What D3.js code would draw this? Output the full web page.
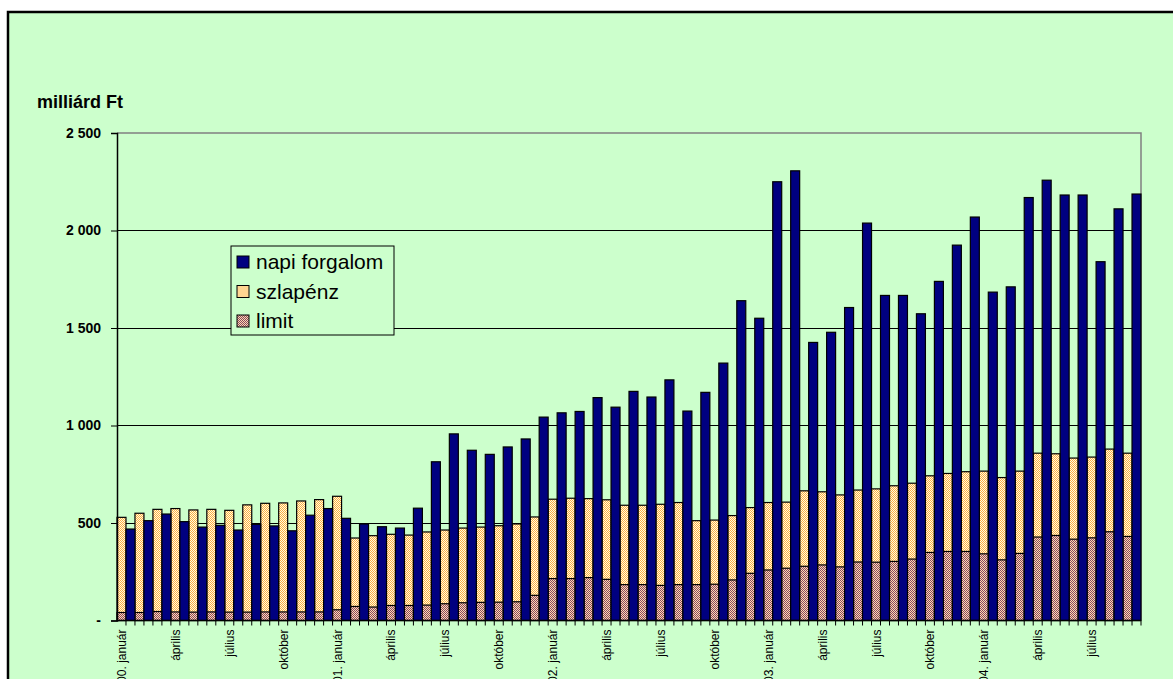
<!DOCTYPE html>
<html>
<head>
<meta charset="utf-8">
<script src="https://cdn.jsdelivr.net/npm/d3@7"></script>
<style>
  html, body { margin: 0; padding: 0; background: #ffffff; }
  svg { display: block; font-family: "Liberation Sans", Arial, sans-serif; }
</style>
</head>
<body>
<svg id="chart"></svg>
<script>
// havi adatok, 2000. január - 2004. szeptember (milliárd Ft)
const months = [
  "2000. január", "február", "március", "április", "május", "június", "július", "augusztus", "szeptember", "október", "november", "december",
  "2001. január", "február", "március", "április", "május", "június", "július", "augusztus", "szeptember", "október", "november", "december",
  "2002. január", "február", "március", "április", "május", "június", "július", "augusztus", "szeptember", "október", "november", "december",
  "2003. január", "február", "március", "április", "május", "június", "július", "augusztus", "szeptember", "október", "november", "december",
  "2004. január", "február", "március", "április", "május", "június", "július", "augusztus", "szeptember"
];

const napiForgalom = [
  469, 512, 546, 507, 479, 488, 464, 493, 485, 460, 540, 574,
  524, 495, 481, 474, 576, 814, 957, 873, 852, 890, 931, 1043,
  1065, 1072, 1143, 1094, 1175, 1146, 1234, 1074, 1170, 1320, 1640, 1550,
  2250, 2306, 1426, 1478, 1605, 2038, 1667, 1667, 1573, 1739, 1925, 2069,
  1684, 1711, 2169, 2258, 2182, 2182, 1840, 2111, 2187
];

const szlapenz = [
  529, 550, 570, 574, 567, 570, 565, 593, 601, 603, 613, 620,
  637, 423, 435, 442, 438, 454, 464, 474, 479, 486, 495, 531,
  622, 627, 625, 619, 591, 591, 596, 605, 512, 515, 538, 579,
  605, 607, 665, 660, 644, 669, 675, 691, 704, 742, 754, 763,
  766, 733, 766, 858, 855, 833, 838, 879, 858
];

const limit = [
  41, 41, 46, 44, 43, 44, 43, 43, 44, 44, 44, 44,
  55, 72, 69, 77, 77, 79, 86, 91, 93, 94, 96, 129,
  215, 215, 220, 211, 184, 184, 180, 184, 184, 186, 208, 242,
  259, 268, 278, 285, 275, 300, 299, 303, 315, 349, 354, 354,
  342, 311, 344, 428, 436, 417, 424, 455, 431
];

const yTicks = [0, 500, 1000, 1500, 2000, 2500];
const seriesNames = ["napi forgalom", "szlapénz", "limit"];

const width = 1173;
const height = 679;
const margin = { top: 133, right: 32, bottom: 58.5, left: 117 };

const svg = d3.select("#chart").attr("width", width).attr("height", height);

// mintázatok (Excel-szerű pontozás)
const defs = svg.append("defs");
function checker(id, c1, c2) {
  const p = defs.append("pattern")
    .attr("id", id)
    .attr("patternUnits", "userSpaceOnUse")
    .attr("width", 2).attr("height", 2);
  p.append("rect").attr("width", 2).attr("height", 2).attr("fill", c2);
  p.append("rect").attr("width", 1).attr("height", 1).attr("fill", c1);
  p.append("rect").attr("x", 1).attr("y", 1).attr("width", 1).attr("height", 1).attr("fill", c1);
}
checker("pat-szla", "#ffaa44", "#ffffdd");
checker("pat-limit", "#884466", "#ffddaa");

const colors = {
  "napi forgalom": "#000080",
  "szlapénz": "url(#pat-szla)",
  "limit": "url(#pat-limit)"
};

// keret
svg.append("rect")
  .attr("x", 8).attr("y", 12)
  .attr("width", width + 20).attr("height", height + 20)
  .attr("fill", "#ccffcc")
  .attr("stroke", "#000").attr("stroke-width", 2.5);

// minden hónaphoz két kategória: halmozott oszlop + napi forgalom
const slots = [];
months.forEach((m, i) => {
  slots.push({ key: i + "a", i: i, kind: "stack" });
  slots.push({ key: i + "b", i: i, kind: "napi" });
});

const x = d3.scaleBand()
  .domain(slots.map(d => d.key))
  .range([margin.left, width - margin.right])
  .padding(0);

const y = d3.scaleLinear()
  .domain([0, 2500])
  .range([height - margin.bottom, margin.top]);

const plotRight = width - margin.right;
const y0 = y(0);

// rácsvonalak
svg.append("g")
  .selectAll("line")
  .data(yTicks.filter(t => t > 0 && t < 2500))
  .enter()
  .append("line")
  .attr("x1", margin.left).attr("x2", plotRight)
  .attr("y1", d => y(d)).attr("y2", d => y(d))
  .attr("stroke", "#000").attr("stroke-width", 1)
  .attr("shape-rendering", "crispEdges");

// a rajzterület szürke kerete (felül és jobbra)
svg.append("path")
  .attr("d", `M${margin.left},${y(2500)}H${plotRight}V${y0}`)
  .attr("fill", "none")
  .attr("stroke", "#808080").attr("stroke-width", 1.5);

// oszlopok
const bars = svg.append("g").attr("stroke", "#000").attr("stroke-width", 1.2);

bars.selectAll(".szla")
  .data(months.map((m, i) => i))
  .enter()
  .append("rect")
  .attr("class", "szla")
  .attr("x", i => x(i + "a"))
  .attr("width", x.bandwidth())
  .attr("y", i => y(szlapenz[i]))
  .attr("height", i => y0 - y(szlapenz[i]))
  .attr("fill", colors["szlapénz"]);

bars.selectAll(".limit")
  .data(months.map((m, i) => i))
  .enter()
  .append("rect")
  .attr("class", "limit")
  .attr("x", i => x(i + "a"))
  .attr("width", x.bandwidth())
  .attr("y", i => y(limit[i]))
  .attr("height", i => y0 - y(limit[i]))
  .attr("fill", colors["limit"]);

bars.selectAll(".napi")
  .data(months.map((m, i) => i))
  .enter()
  .append("rect")
  .attr("class", "napi")
  .attr("x", i => x(i + "b"))
  .attr("width", x.bandwidth())
  .attr("y", i => y(napiForgalom[i]))
  .attr("height", i => y0 - y(napiForgalom[i]))
  .attr("fill", colors["napi forgalom"]);

// y tengely
const yAxis = d3.axisLeft(y)
  .tickValues(yTicks)
  .tickSize(6)
  .tickPadding(10)
  .tickFormat(d => d === 0 ? "-" : d3.format(",")(d).replace(",", " "));

const gy = svg.append("g")
  .attr("transform", `translate(${margin.left},0)`)
  .call(yAxis);
gy.select(".domain").attr("stroke", "#000").attr("stroke-width", 1.5);
gy.selectAll(".tick line").attr("stroke", "#000");
gy.selectAll("text")
  .attr("fill", "#000")
  .style("font-size", "14px")
  .style("font-weight", "bold");

// x tengely: osztásjelek minden kategória határán
const gx = svg.append("g")
  .attr("transform", `translate(0,${y0})`);
gx.append("line")
  .attr("x1", margin.left).attr("x2", plotRight)
  .attr("stroke", "#000").attr("stroke-width", 1.5);
gx.selectAll(".xt")
  .data(slots)
  .enter()
  .append("line")
  .attr("class", "xt")
  .attr("x1", d => x(d.key) + x.bandwidth())
  .attr("x2", d => x(d.key) + x.bandwidth())
  .attr("y1", 0).attr("y2", 5)
  .attr("stroke", "#000");

// negyedéves feliratok
gx.selectAll(".xl")
  .data(months.map((m, i) => i).filter(i => i % 3 === 0))
  .enter()
  .append("text")
  .attr("class", "xl")
  .attr("transform", i => `translate(${x(i + "a") + x.bandwidth() / 2 + 4.5},9) rotate(-90)`)
  .attr("text-anchor", "end")
  .style("font-size", "12px")
  .attr("fill", "#000")
  .text(i => months[i]);

// tengelycím
svg.append("text")
  .attr("x", 37).attr("y", 108)
  .style("font-size", "18px")
  .style("font-weight", "bold")
  .text("milliárd Ft");

// jelmagyarázat
const legend = svg.append("g").attr("transform", "translate(231,246)");
legend.append("rect")
  .attr("width", 163).attr("height", 89)
  .attr("fill", "#ccffcc")
  .attr("stroke", "#000").attr("stroke-width", 1);
const li = legend.selectAll(".li")
  .data(seriesNames)
  .enter()
  .append("g")
  .attr("transform", (d, i) => `translate(6,${10 + i * 29.5})`);
li.append("rect")
  .attr("width", 12).attr("height", 12)
  .attr("fill", d => colors[d])
  .attr("stroke", "#000");
li.append("text")
  .attr("x", 19).attr("y", 13)
  .style("font-size", "21px")
  .text(d => d);
</script>
</body>
</html>
